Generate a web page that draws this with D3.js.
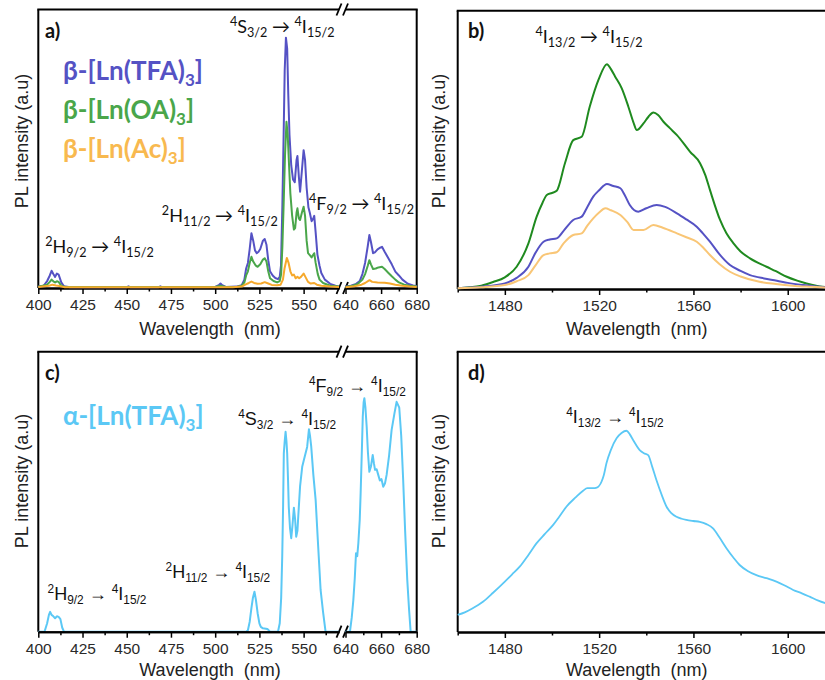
<!DOCTYPE html>
<html>
<head>
<meta charset="utf-8">
<script src="https://cdn.jsdelivr.net/npm/d3@7"></script>
<style>
  body { margin: 0; background: #fff; }
  .axis path, .axis line { stroke: #000; }
  .axis text { font-family: "Liberation Sans", Arial, sans-serif; font-size: 15.5px; fill: #2a2a2a; }
  .title { font-family: "Liberation Sans", Arial, sans-serif; font-size: 18px; fill: #222; }
  .plabel { font-family: Lato, sans-serif; font-weight: bold; font-size: 20px; fill: #111; }
</style>
</head>
<body>
<div id="chart"></div>
<script>
// visible spectra (nm, intensity a.u.)
var tfaVis = [[400,0.5],[403,0.8],[405,2.5],[406.5,4.5],[407.5,6.2],[408.5,5],[409.5,4],[410.5,5.2],[411.5,4.8],[413,2],[414.5,0.6],[418,0.3],
  [450,0.3],[451,0.6],[452,0.3],[468,0.3],[469,0.6],[470,0.3],[500,0.4],[502,1],[503,1.6],[504,1],[506,0.4],
  [512,0.5],[515,1],[516.5,3],[517.5,7],[518.5,9],[519.5,14],[520.5,19.7],[521.5,17],[522.5,13.5],[523.5,12.5],[524.5,13],[525.5,14],[527,17],[528,17.6],[529,15.5],[530,10],[531,6],[532.5,4.5],[534,3.6],[535.5,3.2],[536.5,4],[537.2,8],
  [538,30],[538.7,55],[539.3,78],[540,89.9],[540.7,86],[541.3,70],[542,55],[543,44],[544,39],[545,38],[546,46],[546.5,47.4],[547.3,40],[548,34.6],[549,42],[550,49.5],[550.8,46],[551.7,36],[552.7,29],[553.5,27],[554.5,24],[555.5,25],[556,25.9],[556.8,20],[557.8,12],[559,8],[560,5.4],[562,3],[565,1.5],[568,0.8],[570,0.5],
  [640,0.5],[643,0.8],[646,1.5],[648,2.5],[649.5,5],[651,9],[652.5,15],[653.4,19],[654.3,16.5],[655.5,12.5],[656.5,12.8],[658,13.9],[659.5,14.5],[660.5,14.8],[662,13],[664,10.8],[666,8.5],[668,5.9],[670,4.5],[672,3],[675,1.5],[678,0.9],[680,0.7]];

var oaVis = [[400,0.5],[405,1.2],[406.5,2.2],[407.5,3],[408.5,2.4],[409.5,2],[410.5,2.4],[411.5,2.2],[413,0.8],[415,0.4],[500,0.4],[503,0.8],[506,0.4],
  [512,0.4],[515,0.8],[516.5,2],[517.5,4.5],[518.5,6],[519.5,9],[520.5,11.2],[521.5,9.5],[523,8],[524,7.6],[525.5,8.5],[527,10.2],[528,10.7],[529,9.5],[530,6],[531,3.5],[533,2.5],[535,2],[536.5,2.5],[537.3,5],
  [538,15],[538.7,30],[539.5,48],[540.3,59.7],[541,55],[541.7,45],[542.5,34],[543.5,26],[544.5,21],[545.2,21.5],[546,27],[546.5,28.6],[547.3,25],[548,24.4],[549,27],[550,29.2],[550.8,26],[551.7,17],[552.5,12.5],[553.5,11.8],[554.5,11],[555.5,12],[556,12.5],[556.8,9],[558,5],[559,3],[561,1.8],[565,0.8],[570,0.5],
  [640,0.4],[644,0.8],[647,1.5],[649.5,3],[651,5],[652.5,8],[653.4,10],[654.3,8.5],[655.5,6.8],[657,7],[658.5,7.4],[660.5,7.6],[662,6.8],[664,5.5],[666,4.2],[668,3],[670,2],[673,1.2],[676,0.8],[680,0.5]];

var acVis = [[400,0.4],[406,0.8],[408,1.2],[410,0.9],[412,0.7],[415,0.3],[510,0.3],[515,0.5],[517,1.2],[519,1.8],[520.5,2.3],[522,1.8],[524,1.5],[526,1.6],[528,2.1],[530,1.6],[532,1.1],[535,1],[537,1.2],
  [538.3,3],[539.2,7],[540.5,10.8],[541.5,9],[542.5,6],[543.5,4.5],[544.5,4.8],[545.5,3.5],[546.5,4],[547.5,3.5],[548.5,4],[550,5.2],[551,4],[552.5,2.2],[554,1.6],[556,1.8],[557.5,1.2],[560,0.8],[565,0.5],[570,0.4],
  [640,0.3],[645,0.6],[649,1.2],[651,1.8],[653.5,2.8],[655,2.2],[658,2],[662,1.9],[665,1.6],[668,1.2],[672,0.8],[676,0.5],[680,0.4]];

var alphaVis = [[400,0],[403.5,0],[405,3],[406,6],[406.7,7.1],[407.5,6],[408.5,5.5],[409.5,4.8],[410.5,5.5],[411.5,5.3],[412.5,4.5],[413.5,1.5],[414.5,0],
  [517.5,0],[518.5,0.5],[519.5,3.5],[520.5,8.5],[521.3,12],[522.2,14.3],[523,11.5],[524,6.6],[525,3],[525.8,1.7],[527,1.2],[529.5,1],[531,0],[535.5,0],
  [536.5,3],[537.3,12],[537.9,26.8],[538.4,45],[538.8,63.7],[539.3,68],[539.8,71.4],[540.3,68],[540.7,63.7],[541.2,54],[541.6,44.6],[542.3,37],[543,33.4],[543.7,38],[544.5,44.3],[545.2,40],[545.8,33.9],[546.5,36],[547,41.5],[548,52],[549.2,58.9],[550,61],[551.1,63.7],[552,66],[553,72.3],[553.6,70],[554.3,66.1],[555.5,56],[556.8,47],[558,33],[559.6,14.9],[561,7],[562.4,0],[570,0],
  [640,0],[642.5,0],[643.5,5],[644.4,11.3],[645.2,19],[645.9,28],[646.6,27],[647.2,31.5],[648,40],[648.5,49.4],[649.2,65],[649.7,76.8],[650.2,82],[650.6,83.4],[651.2,80],[651.9,73.2],[652.6,64],[653.4,57.1],[654.3,59],[655.3,63.1],[656,60],[656.6,57.8],[657.5,58],[658.4,56],[659.3,54],[660.2,54.5],[661.2,51.8],[662.2,53],[663.1,56],[664.5,63],[665.9,72],[667.5,78],[668.7,82.1],[669.5,81],[670.2,80],[671.3,70],[672.4,54.2],[673.5,36],[674.7,18.5],[675.7,8],[676.6,0],[680,0]];

// near-infrared spectra
var tfaNir = [[1460,0.3],[1470,0.8],[1480,2],[1485,4],[1490,8],[1493,13],[1496.4,17],[1499,17.8],[1502,18.2],[1505,21],[1509,24.8],[1512.6,26],[1515,29.5],[1517.5,33.2],[1520,35.5],[1523.3,37.7],[1526,37],[1529,36.2],[1531,33.5],[1533,30.2],[1536.6,27.8],[1540,29],[1544.4,30.2],[1548,29.5],[1553,27.2],[1557,25],[1561.4,22.4],[1564,20],[1567,17],[1571,12.5],[1575.5,8.6],[1580,6.5],[1584,5],[1590,3.8],[1595.4,3],[1600,2.2],[1606.7,1.4],[1612,0.9],[1617,0.6]];

var oaNir = [[1460,0.3],[1465,0.6],[1470,1.2],[1475,2.5],[1480,4.2],[1485,8],[1490,16.4],[1493.5,26],[1496,31],[1497.8,33.8],[1500,34.5],[1502,35.3],[1505.5,45.2],[1509,53.5],[1512.6,54.7],[1516,65.5],[1519.7,75.1],[1523.3,80.8],[1525,79],[1526.8,76.3],[1529.6,72.1],[1532.4,65.5],[1534.5,60],[1536,57.1],[1538.8,59.5],[1541,62],[1543,63.4],[1545,62.5],[1547.3,60.1],[1550,57.8],[1553,55.3],[1558.6,49.3],[1562.8,45.2],[1565,41],[1567,35.6],[1571.3,24.8],[1574,20],[1577,16.4],[1580,13.5],[1584,11],[1591,8],[1595,6.4],[1599.6,4.4],[1604,3],[1608,2],[1612,1.2],[1617,0.6]];

var acNir = [[1460,0.3],[1470,0.6],[1480,1.4],[1485,2.8],[1490,5],[1493,8.5],[1496.4,12.2],[1499,12.8],[1502,13.2],[1505,16.5],[1509,19.4],[1512.6,20],[1515,22.8],[1517.5,25.4],[1520,27.5],[1522.6,29],[1525,28.3],[1529,26.6],[1532,24],[1534.6,21.2],[1538.8,21.2],[1543,23],[1547,22],[1553,20],[1557,18.6],[1561.4,17],[1564,15],[1567,12.2],[1571,9],[1575.5,6.2],[1580,4.5],[1588,2.6],[1595,1.8],[1602,1.2],[1610,0.8],[1617,0.5]];

var alphaNir = [[1460,6.1],[1463,7],[1466,8.3],[1470.7,10.8],[1475,14],[1480,18],[1483,20.5],[1486.3,23.3],[1490,27.5],[1493.4,31.6],[1497,35],[1500.5,38.2],[1503,41],[1506.1,44.7],[1510,48],[1513.2,50.4],[1515,51.3],[1517.4,51.3],[1519,51.5],[1521,53.6],[1522,56],[1523.1,60.2],[1525,65],[1527.4,69.1],[1529.5,71],[1531.6,71.8],[1533,70.5],[1534.4,68.5],[1537.2,64.9],[1539,63.8],[1540.8,63.1],[1542.5,59],[1544.3,54.2],[1546.5,49],[1548.6,44.7],[1550.5,42.5],[1552.8,41.1],[1555,40.4],[1557,40],[1560,39.6],[1562.7,39.3],[1565.5,38.5],[1568.3,37],[1571,33.8],[1574,29.9],[1577,26.5],[1579.6,23.9],[1583,21.8],[1586.7,20.3],[1591,19.2],[1595.2,18],[1598.5,16.7],[1602.3,15],[1606,13.8],[1609.3,12.6],[1613,11.2],[1617,10]];

var visMajor = [[400,425,450,475,500,525,550],[640,660,680]];
var visMinor = [[412.5,437.5,462.5,487.5,512.5,537.5,562.5],[650,670]];
var nirMajor = [1480,1520,1560,1600];
var nirMinor = [1460,1500,1540,1580];

var betaNames = ["β-[Ln(TFA)", "β-[Ln(OA)", "β-[Ln(Ac)"];
var alphaName = "α-[Ln(TFA)";

// transitions: anchor in (nm, intensity)
var transA = [
  {nm: 537.9, v: 91.6, a: ["4","S","3/2"], b: ["4","I","15/2"]},
  {nm: 502.6, v: 23.7, a: ["2","H","11/2"], b: ["4","I","15/2"]},
  {nm: 649,   v: 28,   a: ["4","F","9/2"],  b: ["4","I","15/2"]},
  {nm: 434.6, v: 12.6, a: ["2","H","9/2"],  b: ["4","I","15/2"]}
];
var transB = [{nm: 1515.7, v: 88.4, a: ["4","I","13/2"], b: ["4","I","15/2"]}];
var transC = [
  {nm: 646.7, v: 85.6, a: ["4","F","9/2"],  b: ["4","I","15/2"]},
  {nm: 540.7, v: 73.8, a: ["4","S","3/2"],  b: ["4","I","15/2"]},
  {nm: 501.5, v: 19.2, a: ["2","H","11/2"], b: ["4","I","15/2"]},
  {nm: 433.2, v: 11.3, a: ["2","H","9/2"],  b: ["4","I","15/2"]}
];
var transD = [{nm: 1526.7, v: 74.6, a: ["4","I","13/2"], b: ["4","I","15/2"]}];

var W = 825, H = 680;
var svg = d3.select("#chart").append("svg").attr("width", W).attr("height", H);

var cBlue = "#5552c4", cGreen = "#4aa64a", cOrange = "#f6a92c";
var cGreenB = "#1f8a1f", cOrangeB = "#f9c676", cAlpha = "#5bc8f5";

function segScales() {
  return [
    d3.scaleLinear().domain([400, 570]).range([38.3, 339]),
    d3.scaleLinear().domain([640, 680]).range([345.5, 416.7])
  ];
}

function xVis(segs, nm) {
  return nm >= 640 ? segs[1](nm) : segs[0](nm);
}

function transLabel(g, x, y, t, size, fam, subScale) {
  var s = size * subScale;
  var txt = g.append("text").attr("x", x).attr("y", y)
    .attr("text-anchor", "middle")
    .style("font-family", fam).style("font-size", size + "px").style("fill", "#111");
  [t.a, t.b].forEach(function(p, i) {
    if (i > 0) txt.append("tspan").attr("dy", -size * 0.22).text(" \u2192 ");
    txt.append("tspan").attr("dy", -size * 0.4).style("font-size", s + "px").text(p[0]);
    txt.append("tspan").attr("dy", size * 0.4).text(p[1]);
    txt.append("tspan").attr("dy", size * 0.22).style("font-size", s + "px").text(p[2]);
  });
}

function styleAxis(a) {
  a.select(".domain").attr("stroke-width", 2);
  a.selectAll(".tick line").attr("stroke-width", 1.5);
}

function breakMark(g, x, y) {
  g.append("line").attr("x1", x - 2.5).attr("y1", y + 6).attr("x2", x + 2.5).attr("y2", y - 6)
    .attr("stroke", "#000").attr("stroke-width", 1.8);
}

// panel with broken x axis (a, c)
function visPanel(yTop, yBot, series, front) {
  var g = svg.append("g");
  var segs = segScales();
  var y = d3.scaleLinear().domain([0, 100]).range([yBot, yTop]);
  var frame = g.append("g");
  var lines = g.append("g");

  frame.append("line").attr("x1", 38.3).attr("x2", 38.3).attr("y1", yTop).attr("y2", yBot).attr("stroke", "#000").attr("stroke-width", 2);
  frame.append("line").attr("x1", 416.7).attr("x2", 416.7).attr("y1", yTop).attr("y2", yBot).attr("stroke", "#000").attr("stroke-width", 2);
  frame.append("line").attr("x1", 37.3).attr("x2", 339).attr("y1", yTop).attr("y2", yTop).attr("stroke", "#000").attr("stroke-width", 2);
  frame.append("line").attr("x1", 345.5).attr("x2", 417.7).attr("y1", yTop).attr("y2", yTop).attr("stroke", "#000").attr("stroke-width", 2);
  [yTop, yBot].forEach(function(yy) { breakMark(frame, 339, yy); breakMark(frame, 345.5, yy); });

  var axG = front ? g.append("g") : frame;
  segs.forEach(function(sc, i) {
    var a = axG.append("g").attr("class", "axis").attr("transform", "translate(0," + yBot + ")")
      .call(d3.axisBottom(sc).tickValues(visMajor[i]).tickSize(6).tickSizeOuter(0).tickPadding(5).tickFormat(d3.format("d")));
    styleAxis(a);
    var m = axG.append("g").attr("class", "axis").attr("transform", "translate(0," + yBot + ")")
      .call(d3.axisBottom(sc).tickValues(visMinor[i]).tickSize(3.5).tickSizeOuter(0).tickFormat(""));
    styleAxis(m);
    series.forEach(function(s) {
      var pts = s.data.filter(function(d) { return d[0] >= sc.domain()[0] && d[0] <= sc.domain()[1]; });
      lines.append("path").datum(pts)
        .attr("fill", "none").attr("stroke", s.color).attr("stroke-width", 2).attr("stroke-linejoin", "round")
        .attr("d", d3.line().x(function(d) { return sc(d[0]); }).y(function(d) { return y(d[1]); }));
    });
  });
  if (front) axG.raise();
  return {g: g, segs: segs, y: y};
}

function nirPanel(yTop, yBot, series, width) {
  var g = svg.append("g");
  var x = d3.scaleLinear().domain([1460, 1617]).range([457.7, 827.8]);
  var y = d3.scaleLinear().domain([0, 100]).range([yBot, yTop]);
  g.append("line").attr("x1", 457.7).attr("x2", 457.7).attr("y1", yTop).attr("y2", yBot).attr("stroke", "#000").attr("stroke-width", 2);
  g.append("line").attr("x1", 456.7).attr("x2", 830).attr("y1", yTop).attr("y2", yTop).attr("stroke", "#000").attr("stroke-width", 2);
  var a = g.append("g").attr("class", "axis").attr("transform", "translate(0," + yBot + ")")
    .call(d3.axisBottom(x).tickValues(nirMajor).tickSize(6).tickSizeOuter(0).tickPadding(5).tickFormat(d3.format("d")));
  styleAxis(a);
  var m = g.append("g").attr("class", "axis").attr("transform", "translate(0," + yBot + ")")
    .call(d3.axisBottom(x).tickValues(nirMinor).tickSize(3.5).tickSizeOuter(0).tickFormat(""));
  styleAxis(m);
  series.forEach(function(s) {
    g.append("path").datum(s.data)
      .attr("fill", "none").attr("stroke", s.color).attr("stroke-width", width).attr("stroke-linejoin", "round")
      .attr("d", d3.line().curve(d3.curveMonotoneX).x(function(d) { return x(d[0]); }).y(function(d) { return y(d[1]); }));
  });
  return {g: g, x: x, y: y};
}

function axisTitles(cx, bx, cy, baseY) {
  svg.append("text").attr("class", "title").attr("text-anchor", "middle")
    .attr("x", cx).attr("y", baseY).text("Wavelength  (nm)").style("white-space", "pre");
  svg.append("text").attr("class", "title").attr("text-anchor", "middle")
    .attr("transform", "translate(" + bx + "," + cy + ")rotate(-90)").text("PL intensity (a.u)");
}

// a)
var pa = visPanel(9.5, 288, [{data: tfaVis, color: cBlue}, {data: oaVis, color: cGreen}, {data: acVis, color: cOrange}], false);
transA.forEach(function(t) { transLabel(svg, xVis(pa.segs, t.nm), pa.y(t.v), t, 18, "Lato, sans-serif", 0.7); });
[cBlue, cGreen, "#f8b94f"].forEach(function(c, i) {
  var t = svg.append("text").attr("x", 63).attr("y", 80 + i * 39)
    .style("font-family", "Lato, sans-serif").style("font-weight", "bold").style("font-size", "26px").style("fill", c);
  t.append("tspan").text(betaNames[i]);
  t.append("tspan").attr("dy", 6).style("font-size", "17px").text("3");
  t.append("tspan").attr("dy", -6).text("]");
});
svg.append("text").attr("class", "plabel").attr("x", 45).attr("y", 38).text("a)");
axisTitles(210, 28, 141, 335);

// b)
var pb = nirPanel(10.7, 289, [{data: oaNir, color: cGreenB}, {data: tfaNir, color: cBlue}, {data: acNir, color: cOrangeB}], 2);
transB.forEach(function(t) { transLabel(svg, pb.x(t.nm), pb.y(t.v), t, 18, "Lato, sans-serif", 0.7); });
svg.append("text").attr("class", "plabel").attr("x", 468).attr("y", 38).text("b)");
axisTitles(636.7, 445, 141, 335);

// c)
var pc = visPanel(351.7, 631.7, [{data: alphaVis, color: cAlpha}], true);
transC.forEach(function(t) { transLabel(svg, xVis(pc.segs, t.nm), pc.y(t.v), t, 18, "'Liberation Sans', Arial, sans-serif", 0.66); });
var at = svg.append("text").attr("x", 63).attr("y", 425)
  .style("font-family", "Lato, sans-serif").style("font-weight", "bold").style("font-size", "26px").style("fill", cAlpha);
at.append("tspan").text(alphaName);
at.append("tspan").attr("dy", 6).style("font-size", "17px").text("3");
at.append("tspan").attr("dy", -6).text("]");
svg.append("text").attr("class", "plabel").attr("x", 45).attr("y", 380).text("c)");
axisTitles(210, 28, 481, 676);

// d)
var pd = nirPanel(351.7, 632, [{data: alphaNir, color: cAlpha}], 1.8);
transD.forEach(function(t) { transLabel(svg, pd.x(t.nm), pd.y(t.v), t, 18, "'Liberation Sans', Arial, sans-serif", 0.66); });
svg.append("text").attr("class", "plabel").attr("x", 468).attr("y", 380).text("d)");
axisTitles(636.7, 445, 481, 676);
</script>
</body>
</html>
